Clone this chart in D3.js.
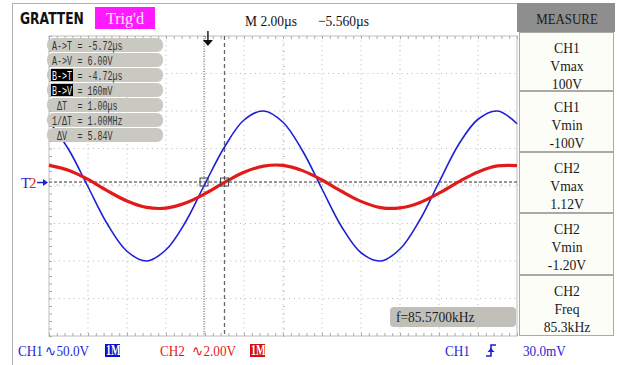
<!DOCTYPE html>
<html><head><meta charset="utf-8">
<script src="https://cdn.jsdelivr.net/npm/d3@7"></script>
<style>body{margin:0;background:#fff}svg{display:block}text{white-space:pre}</style>
</head><body>
<svg id="c" width="617" height="365"></svg>
<script>
const timeUs   = [0,1,2,3,4,5,6,7,8,9,10,11,12,13,14,15,16,17,18,19,20,21,22,23,24];
const ch1Volts = [86,49,-1,-51,-87,-100,-85,-48,3,52,88,100,85,47,-4,-54,-89,-100,-84,-46,5,55,89,100,83];
const ch2Volts = [1.10,0.84,0.35,-0.26,-0.80,-1.14,-1.18,-0.91,-0.41,0.19,0.73,1.06,1.10,0.82,0.32,-0.28,-0.82,-1.15,-1.17,-0.89,-0.38,0.22,0.75,1.07,1.09];
const measureChannels = ["CH1","CH1","CH2","CH2","CH2"];
const measureNames    = ["Vmax","Vmin","Vmax","Vmin","Freq"];
const measureValues   = ["100V","-100V","1.12V","-1.20V","85.3kHz"];
const cursorLabels = ["A->T","A->V","B->T","B->V"," ΔT ","1/ΔT"," ΔV "];
const cursorValues = [" = -5.72µs"," = 6.00V"," = -4.72µs"," = 160mV"," = 1.00µs"," = 1.00MHz"," = 5.84V"];
const cursorInverted = [false,false,true,true,false,false,false];
const cursorA_us = 7.95, cursorB_us = 9.0, trigPos_us = 8.15;
const ch1VoltsPerDiv = 50, ch2VoltsPerDiv = 2, timePerDiv = 2;
const trigLevelV = 5.3; // position of trigger line on CH1 scale
const freqReadout = "f=85.5700kHz";

const svg = d3.select("#c");
const L = 49, R = 517, T = 36, B = 336;
const x  = d3.scaleLinear().domain([0, 12*timePerDiv]).range([L, R]);
const y1 = d3.scaleLinear().domain([-4*ch1VoltsPerDiv, 4*ch1VoltsPerDiv]).range([B, T]);
const y2 = d3.scaleLinear().domain([-4*ch2VoltsPerDiv, 4*ch2VoltsPerDiv]).range([B, T]);
const serif = "'Liberation Serif','Times New Roman',serif";
const mono = "'Liberation Mono','DejaVu Sans Mono',monospace";
const BLUE = "#1f1fd6", RED = "#e31a1a";

function condense(sel, f){ sel.each(function(){ const l=this.getComputedTextLength(); d3.select(this).attr("textLength", l*f).attr("lengthAdjust","spacingAndGlyphs"); }); return sel; }

// outer frame
svg.append("line").attr("x1",12).attr("x2",518).attr("y1",3.5).attr("y2",3.5).attr("stroke","#b0b0b0");
svg.append("line").attr("x1",12.5).attr("x2",12.5).attr("y1",3).attr("y2",365).attr("stroke","#b0b0b0");

// header
condense(svg.append("text").attr("x",20).attr("y",24).attr("font-family","'DejaVu Sans',sans-serif").attr("font-weight","bold").attr("font-size",15).attr("fill","#111").text("GRATTEN"), 0.82);
svg.append("rect").attr("x",95).attr("y",7).attr("width",60).attr("height",22).attr("fill","#ff19ff");
condense(svg.append("text").attr("x",125).attr("y",24).attr("text-anchor","middle").attr("font-family",serif).attr("font-size",17).attr("fill","#ffe6ff").text("Trig'd"),0.95);
condense(svg.append("text").attr("x",245).attr("y",26).attr("font-family",serif).attr("font-size",15).attr("fill","#111").text("M 2.00µs"),0.9);
condense(svg.append("text").attr("x",318).attr("y",26).attr("font-family",serif).attr("font-size",15).attr("fill","#111").text("−5.560µs"),0.9);

// plot grid
const g = svg.append("g");
g.append("rect").attr("x",L).attr("y",T).attr("width",R-L).attr("height",B-T).attr("fill","#fff").attr("stroke","#bdbdbd");
const divT = d3.range(0, 12*timePerDiv+0.001, timePerDiv);
const divV = d3.range(-4*ch1VoltsPerDiv, 4*ch1VoltsPerDiv+0.001, ch1VoltsPerDiv);
g.selectAll(".vg").data(divT.slice(1,-1)).join("line").attr("x1",d=>x(d)).attr("x2",d=>x(d)).attr("y1",T).attr("y2",B)
  .attr("stroke","#b8b8b8").attr("stroke-dasharray","1,3.7");
g.selectAll(".hg").data(divV.slice(1,-1)).join("line").attr("y1",d=>y1(d)).attr("y2",d=>y1(d)).attr("x1",L).attr("x2",R)
  .attr("stroke","#b8b8b8").attr("stroke-dasharray","1,3.9");
const minorT = d3.range(0, 12*timePerDiv+0.001, timePerDiv/5);
const minorV = d3.range(-4*ch1VoltsPerDiv, 4*ch1VoltsPerDiv+0.001, ch1VoltsPerDiv/5);
g.append("g").attr("transform",`translate(0,${T})`).call(d3.axisBottom(x).tickValues(minorT).tickSize(3).tickFormat("")).call(a=>{a.select(".domain").remove();a.selectAll("line").attr("stroke","#aaa");});
g.append("g").attr("transform",`translate(0,${B})`).call(d3.axisTop(x).tickValues(minorT).tickSize(3).tickFormat("")).call(a=>{a.select(".domain").remove();a.selectAll("line").attr("stroke","#aaa");});
g.append("g").attr("transform",`translate(0,${y1(0)})`).call(d3.axisTop(x).tickValues(minorT).tickSize(2).tickFormat("")).call(a=>{a.select(".domain").remove();a.selectAll("line").attr("stroke","#c4c4c4");});
g.append("g").attr("transform",`translate(${L},0)`).call(d3.axisRight(y1).tickValues(minorV).tickSize(3).tickFormat("")).call(a=>{a.select(".domain").remove();a.selectAll("line").attr("stroke","#aaa");});
g.append("g").attr("transform",`translate(${x(12)},0)`).call(d3.axisRight(y1).tickValues(minorV).tickSize(2).tickFormat("")).call(a=>{a.select(".domain").remove();a.selectAll("line").attr("stroke","#c4c4c4");});

// cursors
g.append("line").attr("x1",x(cursorA_us)).attr("x2",x(cursorA_us)).attr("y1",T).attr("y2",B).attr("stroke","#555").attr("stroke-dasharray","1,1.5");
g.append("line").attr("x1",x(cursorB_us)).attr("x2",x(cursorB_us)).attr("y1",T).attr("y2",B).attr("stroke","#666").attr("stroke-width",1.3).attr("stroke-dasharray","4,3");
g.append("line").attr("x1",L).attr("x2",R).attr("y1",y1(trigLevelV)).attr("y2",y1(trigLevelV)).attr("stroke","#333").attr("stroke-dasharray","3,2");

// traces
const line = (ys)=>d3.line().x((d,i)=>x(timeUs[i])).y(d=>ys(d)).curve(d3.curveCatmullRom.alpha(0.5));
g.append("path").datum(ch1Volts).attr("d",line(y1)).attr("fill","none").attr("stroke",BLUE).attr("stroke-width",1.6);
g.append("path").datum(ch2Volts).attr("d",line(y2)).attr("fill","none").attr("stroke",RED).attr("stroke-width",3.2);

// cursor squares
[cursorA_us,cursorB_us].forEach(t=>{
  g.append("rect").attr("x",x(t)-4).attr("y",y1(trigLevelV)-4).attr("width",8).attr("height",8).attr("fill","none").attr("stroke","#444").attr("stroke-width",1);
});

// trigger position marker
const tx = x(trigPos_us);
svg.append("line").attr("x1",tx).attr("x2",tx).attr("y1",31).attr("y2",40).attr("stroke","#222").attr("stroke-width",1.5);
svg.append("path").attr("d",`M${tx-5},40 L${tx+5},40 L${tx},46 Z`).attr("fill","#111");

// cursor readout (monospace, horizontally compressed via transform)
const rd = svg.append("g");
const CW = 5.0, FS = 12.5, SX = CW/(FS*0.6);
cursorLabels.forEach((lab,i)=>{
  const cy = 45 + i*15;
  rd.append("rect").attr("x",47).attr("y",cy-7).attr("width",116).attr("height",14).attr("rx",6).attr("fill","#c9c9c2");
  if (cursorInverted[i]) rd.append("rect").attr("x",51).attr("y",cy-6).attr("width",22).attr("height",12).attr("fill","#000");
  rd.append("text").attr("transform",`translate(52,${cy+4.5}) scale(${SX},1)`).attr("font-family",mono).attr("font-size",FS)
    .attr("fill",cursorInverted[i]?"#fff":"#333").text(lab);
  rd.append("text").attr("transform",`translate(${52+lab.length*CW+0.5},${cy+4.5}) scale(${SX},1)`).attr("font-family",mono).attr("font-size",FS)
    .attr("fill","#333").text(cursorValues[i]);
});

// left marker
svg.append("text").attr("x",21).attr("y",188).attr("font-family",serif).attr("font-size",15).attr("fill",BLUE).text("T");
svg.append("text").attr("x",29).attr("y",188).attr("font-family",serif).attr("font-size",15).attr("fill",RED).text("2");
svg.append("line").attr("x1",37).attr("x2",44).attr("y1",y1(trigLevelV)+0.5).attr("y2",y1(trigLevelV)+0.5).attr("stroke",BLUE).attr("stroke-width",1.5);
svg.append("path").attr("d",`M43,${y1(trigLevelV)-3} L48,${y1(trigLevelV)+0.5} L43,${y1(trigLevelV)+4} Z`).attr("fill",BLUE);

// frequency readout
svg.append("rect").attr("x",390).attr("y",307).attr("width",126).attr("height",20).attr("rx",4).attr("fill","#c0c0b8");
condense(svg.append("text").attr("x",396).attr("y",322).attr("font-family",serif).attr("font-size",15).attr("fill","#222").text(freqReadout),0.9);

// measure panel
svg.append("rect").attr("x",517).attr("y",3).attr("width",98).attr("height",29).attr("fill","#8e8e8e");
condense(svg.append("text").attr("x",567).attr("y",24).attr("text-anchor","middle").attr("font-family",serif).attr("font-size",15).attr("fill","#1a1a1a").text("MEASURE"),0.86);
const boxTops = [32,91,152,213,275,336];
measureChannels.forEach((c,i)=>{
  const y0 = boxTops[i], h = boxTops[i+1]-y0;
  svg.append("rect").attr("x",519.5).attr("y",y0+0.5).attr("width",94).attr("height",h-1).attr("fill","#fdfdf8").attr("stroke","#a9a9a9");
  [c, measureNames[i], measureValues[i]].forEach((s,j)=>{
    condense(svg.append("text").attr("x",567).attr("y",y0+[21,39,56.5][j]).attr("text-anchor","middle").attr("font-family",serif).attr("font-size",15.5).attr("fill","#1a1a1a").text(s),0.88);
  });
});

// bottom status line
const st = (xx,s,col)=>condense(svg.append("text").attr("x",xx).attr("y",356).attr("font-family",serif).attr("font-size",15).attr("fill",col).text(s),0.88);
st(18,"CH1",BLUE); st(45,"∿50.0V",BLUE);
svg.append("rect").attr("x",105).attr("y",344).attr("width",15).attr("height",13).attr("fill","#1010c8");
condense(svg.append("text").attr("x",106).attr("y",355).attr("font-family",serif).attr("font-size",14).attr("font-weight","bold").attr("fill","#fff").text("1M"),0.72);
st(160,"CH2",RED); st(192,"∿2.00V",RED);
svg.append("rect").attr("x",250).attr("y",344).attr("width",15).attr("height",13).attr("fill","#d01010");
condense(svg.append("text").attr("x",251).attr("y",355).attr("font-family",serif).attr("font-size",14).attr("font-weight","bold").attr("fill","#fff").text("1M"),0.72);
st(445,"CH1",BLUE);
svg.append("path").attr("d","M486,356 L491,356 L491,345 L496,345").attr("fill","none").attr("stroke",BLUE).attr("stroke-width",1.6);
svg.append("path").attr("d","M487.5,352 L491,348 L494.5,352 Z").attr("fill",BLUE);
st(523,"30.0mV",BLUE);
</script>
</body></html>
